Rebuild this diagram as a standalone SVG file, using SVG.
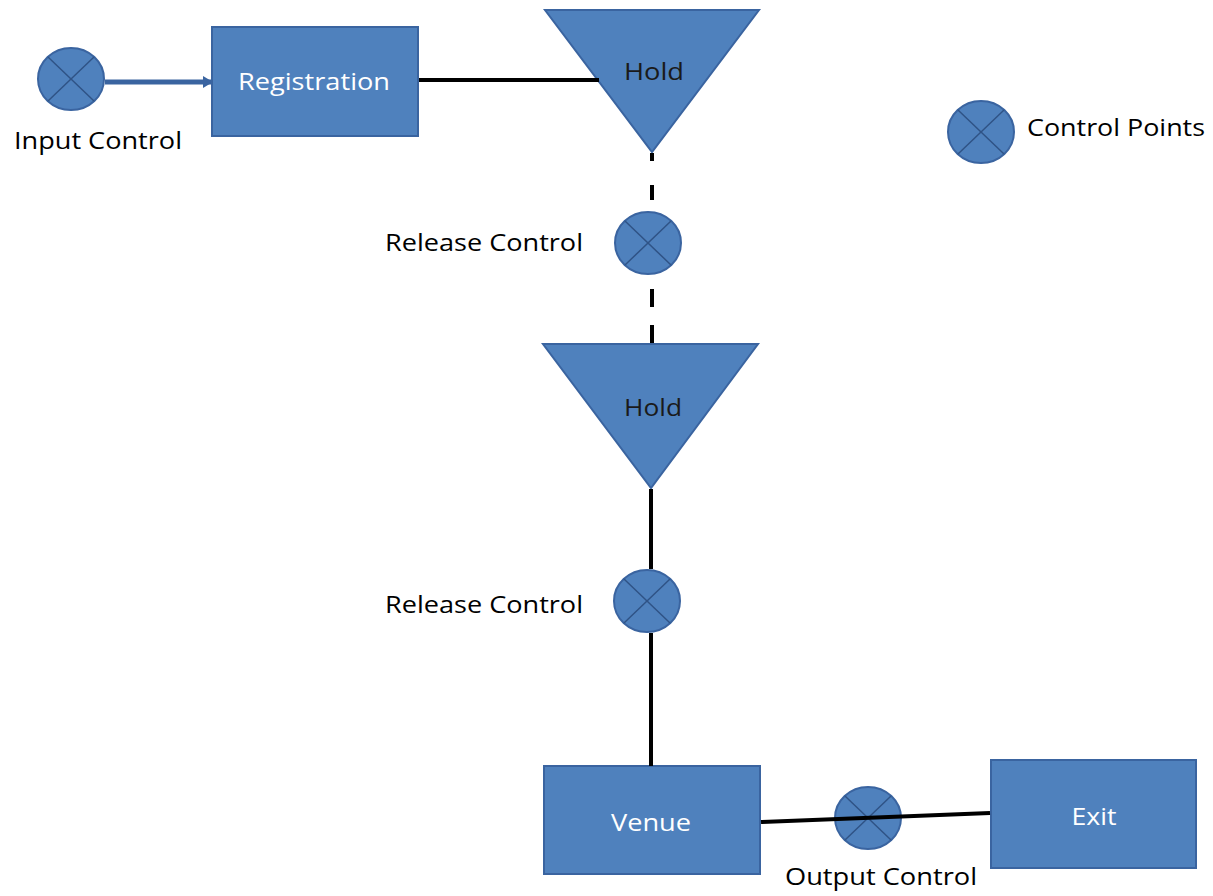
<svg xmlns="http://www.w3.org/2000/svg" width="1213" height="896" viewBox="0 0 1213 896">
<style>
.shape{fill:#4f81bd;stroke:#3a64a0;stroke-width:2}
.xline{stroke:#2f5386;stroke-width:1.5;fill:none}
.conn{stroke:#000;stroke-width:4;fill:none}
.lbl{font-family:"Open Sans","Liberation Sans",sans-serif;font-size:24px;fill:#000}
.wlbl{font-family:"Open Sans","Liberation Sans",sans-serif;font-size:24px;fill:#fff;text-anchor:middle}
.dlbl{font-family:"Open Sans","Liberation Sans",sans-serif;font-size:24px;fill:#1a1a1a;text-anchor:middle}
</style>
<defs>
<marker id="arr" markerWidth="10" markerHeight="12" refX="9" refY="6" orient="auto" markerUnits="userSpaceOnUse">
<path d="M0,0 L10,6 L0,12 z" fill="#3a64a0"/>
</marker>
<g id="cp">
<ellipse cx="0" cy="0" rx="33" ry="31" class="shape"/>
<line x1="-23" y1="-22" x2="23" y2="22" class="xline"/>
<line x1="23" y1="-22" x2="-23" y2="22" class="xline"/>
</g>
</defs>

<g id="input-control">
<use href="#cp" x="71" y="79"/>
<text x="14" y="149" class="lbl" textLength="168" lengthAdjust="spacingAndGlyphs">Input Control</text>
</g>

<g id="registration">
<rect x="212" y="27" width="206" height="109" class="shape"/>
<text x="314" y="90" class="wlbl" textLength="152" lengthAdjust="spacingAndGlyphs">Registration</text>
</g>

<g id="hold-1">
<polygon points="545,10 759,10 652,152" class="shape"/>
<text x="654" y="80" class="dlbl" textLength="60" lengthAdjust="spacingAndGlyphs">Hold</text>
</g>

<g id="release-control-1">
<use href="#cp" x="648" y="243"/>
<text x="385" y="251" class="lbl" textLength="198" lengthAdjust="spacingAndGlyphs">Release Control</text>
</g>

<g id="hold-2">
<polygon points="543,344 758,344 651,488" class="shape"/>
<text x="653" y="416" class="dlbl" textLength="58" lengthAdjust="spacingAndGlyphs">Hold</text>
</g>

<g id="release-control-2">
<use href="#cp" x="647" y="601"/>
<text x="385" y="613" class="lbl" textLength="198" lengthAdjust="spacingAndGlyphs">Release Control</text>
</g>

<g id="venue">
<rect x="544" y="766" width="216" height="108" class="shape"/>
<text x="651" y="831" class="wlbl" textLength="80" lengthAdjust="spacingAndGlyphs">Venue</text>
</g>

<g id="output-control">
<use href="#cp" x="868" y="818"/>
<text x="785" y="885" class="lbl" textLength="192" lengthAdjust="spacingAndGlyphs">Output Control</text>
</g>

<g id="exit">
<rect x="991" y="760" width="205" height="108" class="shape"/>
<text x="1094" y="825" class="wlbl" textLength="45" lengthAdjust="spacingAndGlyphs">Exit</text>
</g>

<g id="legend">
<use href="#cp" x="981" y="132"/>
<text x="1027" y="136" class="lbl" textLength="178" lengthAdjust="spacingAndGlyphs">Control Points</text>
</g>

<g id="connectors">
<line x1="105" y1="82" x2="212" y2="82" stroke="#3a64a0" stroke-width="5" marker-end="url(#arr)"/>
<line x1="419" y1="80" x2="599" y2="80" class="conn"/>
<line x1="652" y1="153" x2="652" y2="211" class="conn" stroke-dasharray="8 24 15 99"/>
<line x1="652" y1="343" x2="652" y2="275" class="conn" stroke-dasharray="18 18"/>
<line x1="651" y1="489" x2="651" y2="569" class="conn"/>
<line x1="651" y1="633" x2="651" y2="766" class="conn"/>
<line x1="761" y1="822" x2="990" y2="813" class="conn"/>
</g>
</svg>
